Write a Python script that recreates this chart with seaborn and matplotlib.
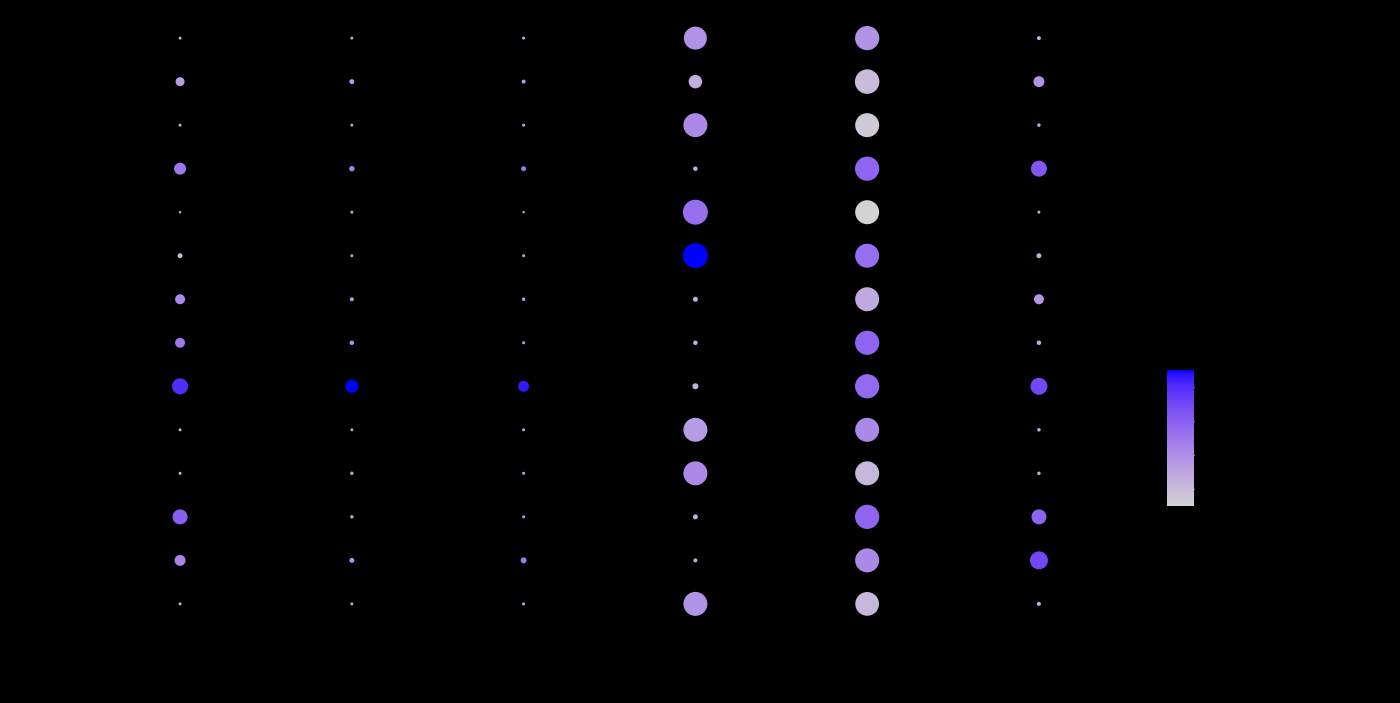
import numpy as np
import pandas as pd
import matplotlib
matplotlib.use("Agg")
import matplotlib.pyplot as plt
import seaborn as sns
from matplotlib.colors import ListedColormap, Normalize
from matplotlib.lines import Line2D

# groups along x, features along y (top to bottom)
identities = ["0", "1", "2", "3", "4", "5"]
features = ["Gene 1", "Gene 2", "Gene 3", "Gene 4", "Gene 5", "Gene 6", "Gene 7",
            "Gene 8", "Gene 9", "Gene 10", "Gene 11", "Gene 12", "Gene 13", "Gene 14"]

# percent expressed, one list per group
pct_0 = [12, 36, 12, 48, 10, 20, 40, 40, 64, 12, 12, 60, 44, 12]
pct_1 = [12, 20, 12, 22, 12, 12, 16, 18, 52, 12, 14, 14, 20, 12]
pct_2 = [12, 16, 12, 20, 10, 12, 14, 12, 44, 12, 12, 12, 24, 12]
pct_3 = [92, 54, 96, 18, 100, 100, 20, 18, 24, 96, 96, 20, 16, 96]
pct_4 = [97, 98, 96, 97, 96, 96, 96, 97, 97, 96, 96, 97, 96, 95]
pct_5 = [16, 44, 14, 64, 12, 20, 40, 18, 68, 14, 14, 60, 72, 16]

# scaled average expression, one list per group
exp_0 = [-0.7, -0.3, -0.7, 0.5, -0.7, -0.9, 0.1, 0.5, 2.0, -0.9, -0.9, 1.0, 0.2, -0.9]
exp_1 = [-0.5, -0.3, -0.5, 0.3, -0.5, -0.5, -0.3, -0.1, 2.5, -0.5, -0.3, -0.3, -0.1, -0.5]
exp_2 = [-0.5, -0.3, -0.5, 0.5, -0.5, -0.5, -0.3, -0.3, 2.3, -0.5, -0.5, -0.3, 0.5, -0.5]
exp_3 = [-0.1, -0.7, 0.1, -0.7, 0.7, 2.5, -0.7, -0.7, -0.8, -0.3, 0.1, -0.7, -0.7, -0.1]
exp_4 = [-0.1, -1.0, -1.3, 0.9, -1.5, 0.7, -0.6, 0.9, 0.8, 0.1, -0.9, 0.9, 0.1, -0.9]
exp_5 = [-0.7, -0.1, -0.7, 1.2, -0.7, -0.7, -0.2, -0.7, 1.5, -0.7, -0.7, 0.9, 1.5, -0.7]

pct_all = [pct_0, pct_1, pct_2, pct_3, pct_4, pct_5]
exp_all = [exp_0, exp_1, exp_2, exp_3, exp_4, exp_5]

rows = []
for ident, pcts, exps in zip(identities, pct_all, exp_all):
    for feat, p, e in zip(features, pcts, exps):
        rows.append({"identity": ident, "feature": feat, "pct": p, "avg_exp": e})
df = pd.DataFrame(rows)


# lightgrey -> blue gradient interpolated in CIELAB (like ggplot)
def to_lab(rgb):
    c = np.asarray(rgb, float)
    lin = np.where(c <= 0.04045, c / 12.92, ((c + 0.055) / 1.055) ** 2.4)
    M = np.array([[0.4124, 0.3576, 0.1805],
                  [0.2126, 0.7152, 0.0722],
                  [0.0193, 0.1192, 0.9505]])
    xyz = M @ lin / np.array([0.95047, 1.0, 1.08883])
    d = 6 / 29
    f = np.where(xyz > d ** 3, np.cbrt(xyz), xyz / (3 * d * d) + 4 / 29)
    return np.array([116 * f[1] - 16, 500 * (f[0] - f[1]), 200 * (f[1] - f[2])])


def from_lab(lab):
    L, a, b = lab
    fy = (L + 16) / 116
    f = np.array([fy + a / 500, fy, fy - b / 200])
    d = 6 / 29
    xyz = np.where(f > d, f ** 3, 3 * d * d * (f - 4 / 29)) * np.array([0.95047, 1.0, 1.08883])
    Minv = np.array([[3.2406, -1.5372, -0.4986],
                     [-0.9689, 1.8758, 0.0415],
                     [0.0557, -0.2040, 1.0570]])
    lin = np.clip(Minv @ xyz, 0, 1)
    c = np.where(lin <= 0.0031308, 12.92 * lin, 1.055 * lin ** (1 / 2.4) - 0.055)
    return np.clip(c, 0, 1)


lab_lo = to_lab([211 / 255, 211 / 255, 211 / 255])
lab_hi = to_lab([0, 0, 1])
cmap = ListedColormap([from_lab(lab_lo + t * (lab_hi - lab_lo)) for t in np.linspace(0, 1, 256)])
norm = Normalize(df["avg_exp"].min(), df["avg_exp"].max())

sns.set_style("ticks")
plt.rcParams["font.family"] = ["DejaVu Sans"]

fig = plt.figure(figsize=(14, 7.03), dpi=100, facecolor="black")
ax = fig.add_axes([77 / 1400, 73 / 703, 1065 / 1400, 618 / 703])
ax.set_facecolor("black")

size_map = {p: (p * 0.18) ** 2 for p in df["pct"].unique()}
sns.scatterplot(data=df, x="identity", y="feature", hue="avg_exp", palette=cmap,
                hue_norm=norm, size="pct", sizes=size_map, linewidth=0,
                legend=False, ax=ax)

ax.set_xlim(-0.6, len(identities) - 0.4)
ax.set_ylim(len(features) - 0.4, -0.6)
ax.set_xlabel("Identity", color="black", fontsize=12)
ax.set_ylabel("", color="black")
ax.tick_params(colors="black", labelsize=10)
for s in ["top", "right"]:
    ax.spines[s].set_visible(False)
for s in ["left", "bottom"]:
    ax.spines[s].set_color("black")

# colour bar
cax = fig.add_axes([1167 / 1400, 197 / 703, 27 / 1400, 136 / 703])
sm = plt.cm.ScalarMappable(norm=norm, cmap=cmap)
cb = fig.colorbar(sm, cax=cax, ticks=[-1, 0, 1, 2])
cb.outline.set_visible(False)
cax.tick_params(which="both", direction="in", left=True, right=True,
                color=(1, 1, 1, 0.8), length=4, width=1, labelcolor="black", labelsize=10)
cax.set_title("Average Expression", color="black", fontsize=11, loc="left")

# size legend (black dots)
handles = [Line2D([], [], linestyle="", marker="o", color="black",
                  markersize=p * 0.18) for p in [25, 50, 75, 100]]
leg = fig.legend(handles, ["25", "50", "75", "100"], title="Percent Expressed",
                 loc="upper left", bbox_to_anchor=(1160 / 1400, 510 / 703),
                 frameon=False, labelcolor="black", fontsize=10, title_fontsize=11)
leg.get_title().set_color("black")

fig.savefig("out.png", dpi=100, facecolor="black")
